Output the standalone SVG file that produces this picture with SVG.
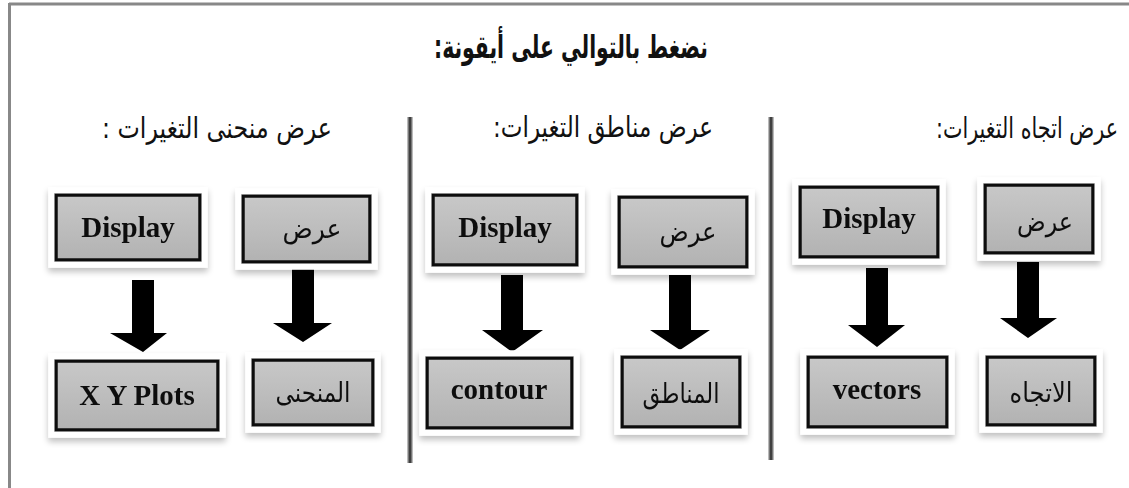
<svg xmlns="http://www.w3.org/2000/svg" width="1129" height="488" viewBox="0 0 1129 488">
<defs>
<linearGradient id="g" x1="0" y1="0" x2="0" y2="1">
<stop offset="0" stop-color="#c8c8c8"/>
<stop offset="0.5" stop-color="#bdbdbd"/>
<stop offset="1" stop-color="#b2b2b2"/>
</linearGradient>
<filter id="sh" x="-20%" y="-30%" width="140%" height="170%">
<feMorphology in="SourceAlpha" operator="dilate" radius="6" result="d"/>
<feGaussianBlur in="d" stdDeviation="3" result="b"/>
<feOffset in="b" dy="4" result="o"/>
<feComponentTransfer in="o" result="s"><feFuncA type="linear" slope="0.25"/></feComponentTransfer>
<feFlood flood-color="#ffffff"/>
<feComposite in2="d" operator="in" result="w"/>
<feMerge><feMergeNode in="s"/><feMergeNode in="w"/><feMergeNode in="SourceGraphic"/></feMerge>
</filter>
</defs>
<style>
.box{fill:url(#g);stroke:#111;stroke-width:3.5}
.en{font-family:"Liberation Serif","Times New Roman",serif;font-weight:bold;font-size:29px;fill:#111;text-anchor:middle}
.ar{font-family:"DejaVu Sans","Noto Sans",sans-serif;font-size:27px;fill:#111;text-anchor:middle}
.hd{font-family:"DejaVu Sans","Noto Sans",sans-serif;font-size:29px;fill:#111;text-anchor:middle}
.tt{font-family:"DejaVu Sans","Noto Sans",sans-serif;font-weight:bold;font-size:32px;fill:#111;text-anchor:middle}
.arrow{fill:#000}
.div{stroke:#777;stroke-width:5}
.divc{stroke:#333;stroke-width:1.6}
</style>
<rect width="1129" height="488" fill="#fff"/>
<g id="frame">
<line x1="9" y1="4" x2="1129" y2="4" stroke="#888" stroke-width="3"/>
<line x1="9.5" y1="3" x2="9.5" y2="488" stroke="#888" stroke-width="3"/>
</g>
<g id="title"><text class="tt" x="571" y="58" direction="rtl" textLength="274" lengthAdjust="spacingAndGlyphs">نضغط بالتوالي على أيقونة:</text></g>
<g id="headings">
<text class="hd" x="217" y="138" direction="rtl" textLength="230" lengthAdjust="spacingAndGlyphs">عرض منحنى التغيرات :</text>
<text class="hd" x="603" y="137" direction="rtl" textLength="220" lengthAdjust="spacingAndGlyphs">عرض مناطق التغيرات:</text>
<text class="hd" transform="translate(1027,138) scale(1,1.3)" x="0" y="0" direction="rtl" style="font-size:22px" textLength="182" lengthAdjust="spacingAndGlyphs">عرض اتجاه التغيرات:</text>
</g>
<g id="dividers">
<line class="div" x1="410" y1="117" x2="410" y2="463"/><line class="divc" x1="410" y1="117" x2="410" y2="463"/>
<line class="div" x1="771" y1="117" x2="771" y2="460"/><line class="divc" x1="771" y1="117" x2="771" y2="460"/>
</g>
<g id="connectors">
<path class="arrow" d="M132,280 H154 V333 H167 L143,352 L110,333 H132 Z"/>
<path class="arrow" d="M292,268 H314 V323 H332 L303,342 L273,323 H292 Z"/>
<path class="arrow" d="M501,275 H523 V330 H543 L512,352 L482,330 H501 Z"/>
<path class="arrow" d="M669,275 H691 V330 H710 L680,350 L650,330 H669 Z"/>
<path class="arrow" d="M866,268 H888 V325 H905 L877,347 L848,325 H866 Z"/>
<path class="arrow" d="M1017,262 H1039 V318 H1057 L1028,338 L1000,318 H1017 Z"/>
</g>
<g id="n-display1" filter="url(#sh)"><rect class="box" x="56" y="195" width="144" height="65"/><text class="en" x="128" y="237">Display</text></g>
<g id="n-ard1" filter="url(#sh)"><rect class="box" x="243" y="196" width="127" height="66"/><text class="ar" x="312" y="238" textLength="59" lengthAdjust="spacingAndGlyphs">عرض</text></g>
<g id="n-xy" filter="url(#sh)"><rect class="box" x="56" y="361" width="162" height="69"/><text class="en" x="137" y="405">X Y Plots</text></g>
<g id="n-curve" filter="url(#sh)"><rect class="box" x="253" y="360" width="120" height="65"/><text class="ar" x="313" y="402" direction="rtl" textLength="75" lengthAdjust="spacingAndGlyphs">المنحنى</text></g>
<g id="n-display2" filter="url(#sh)"><rect class="box" x="433" y="195" width="144" height="70"/><text class="en" x="505" y="237">Display</text></g>
<g id="n-ard2" filter="url(#sh)"><rect class="box" x="619" y="197" width="128" height="70"/><text class="ar" x="688" y="241" textLength="57" lengthAdjust="spacingAndGlyphs">عرض</text></g>
<g id="n-contour" filter="url(#sh)"><rect class="box" x="427" y="358" width="145" height="70"/><text class="en" x="499" y="399">contour</text></g>
<g id="n-regions" filter="url(#sh)"><rect class="box" x="622" y="357" width="118" height="70"/><text class="ar" x="681" y="403" direction="rtl" textLength="77" lengthAdjust="spacingAndGlyphs">المناطق</text></g>
<g id="n-display3" filter="url(#sh)"><rect class="box" x="800" y="187" width="138" height="70"/><text class="en" x="869" y="228">Display</text></g>
<g id="n-ard3" filter="url(#sh)"><rect class="box" x="985" y="185" width="108" height="68"/><text class="ar" x="1045" y="231" textLength="56" lengthAdjust="spacingAndGlyphs">عرض</text></g>
<g id="n-vectors" filter="url(#sh)"><rect class="box" x="808" y="357" width="139" height="70"/><text class="en" x="877" y="399">vectors</text></g>
<g id="n-direction" filter="url(#sh)"><rect class="box" x="987" y="357" width="108" height="68"/><text class="ar" x="1041" y="402" direction="rtl" textLength="63" lengthAdjust="spacingAndGlyphs">الاتجاه</text></g>
</svg>
